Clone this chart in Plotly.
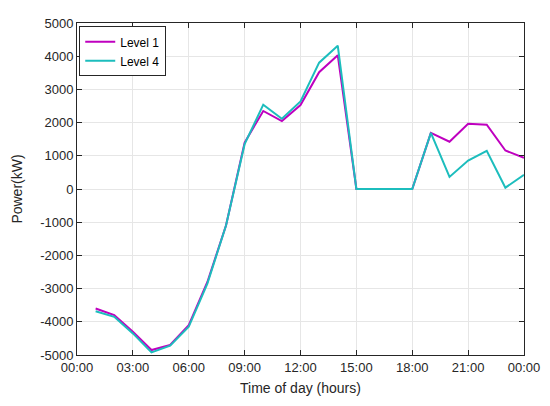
import plotly.graph_objects as go

hours = list(range(1, 25))
level1 = [-3600, -3800, -4300, -4850, -4700, -4100, -2800, -1100, 1400, 2350,
          2045, 2530, 3520, 4030, 0, 0, 0, 0, 1690, 1425, 1965, 1935, 1160, 940]
level4 = [-3680, -3850, -4350, -4920, -4720, -4150, -2850, -1100, 1350, 2540,
          2115, 2635, 3805, 4315, 0, 0, 0, 0, 1690, 365, 855, 1150, 40, 425]

tick_hours = [0, 3, 6, 9, 12, 15, 18, 21, 24]
tick_labels = ["00:00", "03:00", "06:00", "09:00", "12:00", "15:00", "18:00", "21:00", "00:00"]
y_ticks = [-5000, -4000, -3000, -2000, -1000, 0, 1000, 2000, 3000, 4000, 5000]

fig = go.Figure()
fig.add_trace(go.Scatter(x=hours, y=level1, mode="lines", name="Level 1",
                         line=dict(color="#BF00BF", width=2)))
fig.add_trace(go.Scatter(x=hours, y=level4, mode="lines", name="Level 4",
                         line=dict(color="#1CBDBD", width=2)))

axis_style = dict(showline=True, linecolor="#262626", linewidth=1, mirror="ticks",
                  ticks="inside", ticklen=5, tickcolor="#262626",
                  showgrid=True, gridcolor="#E6E6E6", gridwidth=1, zeroline=False,
                  tickfont=dict(size=13, color="#262626"))

fig.update_xaxes(range=[0, 24], tickvals=tick_hours, ticktext=tick_labels,
                 title=dict(text="Time of day (hours)", font=dict(size=14, color="#262626"), standoff=9),
                 **axis_style)
fig.update_yaxes(range=[-5000, 5000], tickvals=y_ticks, ticktext=[str(v) for v in y_ticks],
                 title=dict(text="Power(kW)", font=dict(size=14, color="#262626"), standoff=14),
                 **axis_style)

# page body has an 8px margin, so the figure is sized to sit inside the window
fig.update_layout(
    width=542, height=398,
    margin=dict(l=65, r=26, t=8, b=51),
    paper_bgcolor="white", plot_bgcolor="white",
    font=dict(family="Liberation Sans, Arial, sans-serif", color="#262626"),
    legend=dict(x=0.005, y=0.99, xanchor="left", yanchor="top",
                bgcolor="white", bordercolor="#262626", borderwidth=1,
                font=dict(size=12, color="#000000"), tracegroupgap=0),
    showlegend=True,
)

fig.write_html("out.html")
